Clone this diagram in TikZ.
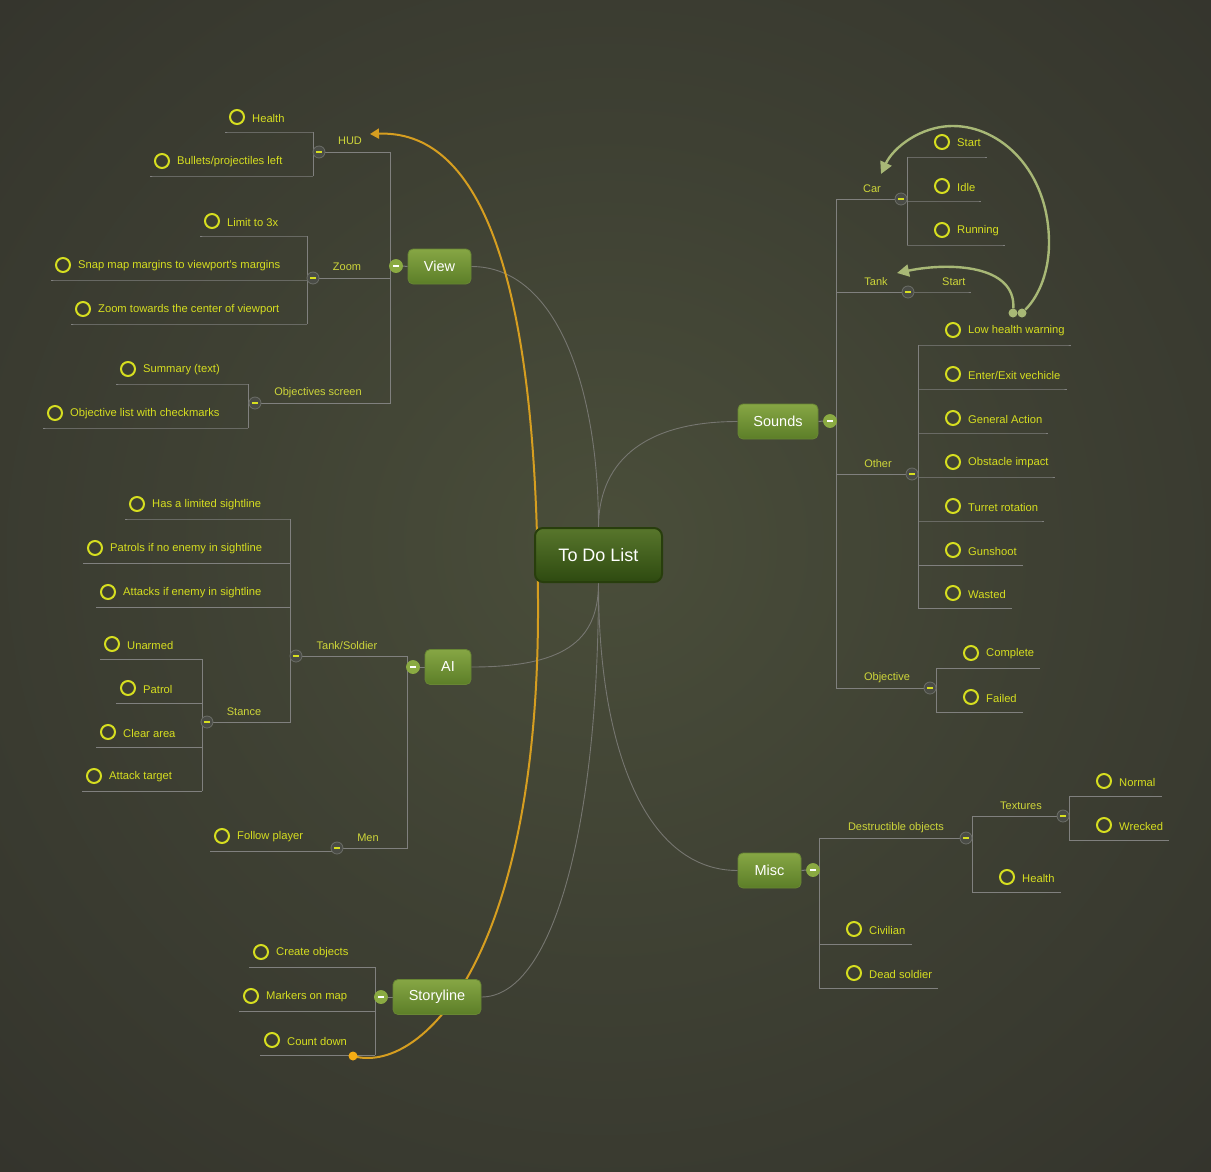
\documentclass[tikz,border=0pt]{standalone}
\usepackage{fontspec}
\setmainfont{Liberation Sans}
\usetikzlibrary{arrows.meta,calc}
\definecolor{bgA}{RGB}{74,78,58}
\definecolor{bgB}{RGB}{62,64,51}
\definecolor{bgC}{RGB}{47,46,41}
\definecolor{bgD}{RGB}{40,39,36}
\definecolor{leafc}{RGB}{214,222,32}
\definecolor{labelc}{RGB}{206,214,58}
\definecolor{linec}{RGB}{128,128,126}
\definecolor{curvec}{RGB}{118,118,112}
\definecolor{btnfill}{RGB}{74,76,70}
\definecolor{btndraw}{RGB}{108,110,104}
\definecolor{mbtnfill}{RGB}{138,170,66}
\definecolor{topicTop}{RGB}{134,166,68}
\definecolor{topicBot}{RGB}{92,126,40}
\definecolor{topicDraw}{RGB}{104,134,52}
\definecolor{rootTop}{RGB}{88,118,44}
\definecolor{rootBot}{RGB}{46,74,16}
\definecolor{rootDraw}{RGB}{40,62,12}
\definecolor{orangec}{RGB}{214,158,32}
\definecolor{orangedot}{RGB}{244,172,20}
\definecolor{sgreen}{RGB}{168,184,118}
\pgfdeclarelayer{back}
\pgfdeclarelayer{lines}
\pgfsetlayers{back,lines,main}
\pgfdeclareradialshading{bgshade}{\pgfpoint{0bp}{2bp}}{color(0bp)=(bgA);color(18bp)=(bgB);color(45bp)=(bgC);color(72bp)=(bgD)}
\tikzset{
  ln/.style={draw=linec, line width=1pt},
  maincurve/.style={draw=curvec, line width=0.9pt},
  btn/.style={circle, minimum size=12pt, inner sep=0pt, fill=btnfill, draw=btndraw, line width=0.8pt,
    path picture={\fill[leafc] ($(path picture bounding box.center)+(-3.2pt,-1.3pt)$) rectangle ++(6.4pt,2.6pt);}},
  mbtn/.style={circle, minimum size=13pt, inner sep=0pt, fill=mbtnfill, draw=mbtnfill, line width=0.8pt,
    path picture={\fill[white] ($(path picture bounding box.center)+(-3.4pt,-1.4pt)$) rectangle ++(6.8pt,2.8pt);}},
  chk/.style={circle, draw=leafc, line width=2pt, minimum size=14pt, inner sep=0pt},
  lt/.style={text=leafc, font=\fontsize{11.2}{13}\selectfont, inner sep=2pt, anchor=west},
  lbl/.style={text=labelc, font=\fontsize{11}{12}\selectfont, inner sep=1pt},
  topic/.style={rounded corners=5pt, top color=topicTop, bottom color=topicBot, draw=topicDraw, line width=0.8pt,
    minimum height=35pt, inner sep=0pt, text=white, font=\fontsize{14.5}{16}\selectfont},
  rootnode/.style={rounded corners=8pt, top color=rootTop, bottom color=rootBot, draw=rootDraw, line width=2pt,
    minimum height=54pt, minimum width=127pt, inner sep=0pt, text=white, font=\fontsize{18}{20}\selectfont},
  sarrow/.style={draw=sgreen, line width=2.4pt, -{Triangle[length=12pt,width=12pt]}},
  oarrow/.style={draw=orangec, line width=2pt, -{Triangle[length=9pt,width=10pt]}},
}
\newcommand\leafL[5]{%
  \node[chk] (#1c) at (#2,#3-15) {};
  \node[lt] (#1) at (#2+13,#3-14) {#5};
  \begin{pgfonlayer}{lines}\draw[ln] (#4,#3) -- (#1c.west |- #4,#3) -- ++(-4pt,0pt);\end{pgfonlayer}}
\newcommand\leafR[4]{%
  \node[chk] (#1c) at (#2+35,#3-15) {};
  \node[lt] (#1) at (#2+48,#3-14) {#4};
  \begin{pgfonlayer}{lines}\draw[ln] (#2,#3) -- (#1.east |- #2,#3) -- ++(4pt,0pt);\end{pgfonlayer}}
\begin{document}
\begin{tikzpicture}[x=1pt,y=-1pt]
\useasboundingbox (0,0) rectangle (1211,1171);
\begin{pgfonlayer}{back}
\shade[shading=bgshade] (0,0) rectangle (1211,1171);
\end{pgfonlayer}

% root and topics
\node[rootnode] (root) at (598.5,555) {To Do List};
\node[topic, minimum width=63pt] (view) at (439.5,266.5) {View};
\node[topic, minimum width=80pt] (sounds) at (778,421.5) {Sounds};
\node[topic, minimum width=46pt] (ai) at (448,667) {AI};
\node[topic, minimum width=63pt] (misc) at (769.5,870.5) {Misc};
\node[topic, minimum width=88pt] (story) at (437,997) {Storyline};

% buttons
\node[mbtn] (bview) at (396,266) {};
\node[mbtn] (bsounds) at (830,421) {};
\node[mbtn] (bai) at (413,667) {};
\node[mbtn] (bmisc) at (813,870) {};
\node[mbtn] (bstory) at (381,997) {};
\node[btn] (bhud) at (319,152) {};
\node[btn] (bzoom) at (313,278) {};
\node[btn] (bobj) at (255,403) {};
\node[btn] (bts) at (296,656) {};
\node[btn] (bstance) at (207,722) {};
\node[btn] (bmen) at (337,848) {};
\node[btn] (bcar) at (901,199) {};
\node[btn] (btank) at (908,292) {};
\node[btn] (bother) at (912,474) {};
\node[btn] (bobjective) at (930,688) {};
\node[btn] (bdestr) at (966,838) {};
\node[btn] (btex) at (1063,816) {};

% labels
\node[lbl] (lhud) at (350,141) {HUD};
\node[lbl] (lzoom) at (347,267) {Zoom};
\node[lbl] (lobj) at (318,393) {Objectives screen};
\node[lbl] (lts) at (347,646) {Tank/Soldier};
\node[lbl] (lstance) at (244,712) {Stance};
\node[lbl] (lmen) at (368,838) {Men};
\node[lbl] (lcar) at (872,189) {Car};
\node[lbl] (ltank) at (876,282) {Tank};
\node[lbl] (lother) at (878,464) {Other};
\node[lbl] (lobjective) at (887,678) {Objective};
\node[lbl] (ldestr) at (896,828) {Destructible objects};
\node[lbl] (ltex) at (1021,806) {Textures};
\node[lbl, anchor=west] (tstart) at (941,282) {Start};

% left leaves
\leafL{hh}{237}{132}{313}{Health}
\leafL{hb}{162}{176}{313}{Bullets/projectiles left}
\leafL{zl}{212}{236}{307}{Limit to 3x}
\leafL{zs}{63}{280}{307}{Snap map margins to viewport's margins}
\leafL{zt}{83}{324}{307}{Zoom towards the center of viewport}
\leafL{os}{128}{384}{248}{Summary (text)}
\leafL{ol}{55}{428}{248}{Objective list with checkmarks}
\leafL{th}{137}{519}{290}{Has a limited sightline}
\leafL{tp}{95}{563}{290}{Patrols if no enemy in sightline}
\leafL{ta}{108}{607}{290}{Attacks if enemy in sightline}
\leafL{su}{112}{659}{202}{Unarmed}
\leafL{sp}{128}{703}{202}{Patrol}
\leafL{sc}{108}{747}{202}{Clear area}
\leafL{sa}{94}{791}{202}{Attack target}
\leafL{mf}{222}{851}{337}{Follow player}
\leafL{yc}{261}{967}{375}{Create objects}
\leafL{ym}{251}{1011}{375}{Markers on map}
\leafL{yd}{272}{1055}{375}{Count down}

% right leaves
\leafR{cs}{907}{157}{Start}
\leafR{ci}{907}{201}{Idle}
\leafR{cr}{907}{245}{Running}
\leafR{ow}{918}{345}{Low health warning}
\leafR{oe}{918}{389}{Enter/Exit vechicle}
\leafR{og}{918}{433}{General Action}
\leafR{oi}{918}{477}{Obstacle impact}
\leafR{ot}{918}{521}{Turret rotation}
\leafR{gs}{918}{565}{Gunshoot}
\leafR{ws}{918}{608}{Wasted}
\leafR{bc}{936}{668}{Complete}
\leafR{bf}{936}{712}{Failed}
\leafR{xn}{1069}{796}{Normal}
\leafR{xw}{1069}{840}{Wrecked}
\leafR{dh}{972}{892}{Health}
\leafR{mc}{819}{944}{Civilian}
\leafR{md}{819}{988}{Dead soldier}

% tree lines
\begin{pgfonlayer}{lines}
\draw[ln] (view.west) -- (bview.east);
\draw[ln] (bhud.east) -- (390,152) -- (390,403) -- (bobj.east);
\draw[ln] (bzoom.east) -- (390,278);
\draw[ln] (313,132) -- (313,176);
\draw[ln] (307,236) -- (307,324);
\draw[ln] (248,384) -- (248,428);
\draw[ln] (ai.west) -- (bai.east);
\draw[ln] (bts.east) -- (407,656) -- (407,848) -- (bmen.east);
\draw[ln] (290,519) -- (290,722) -- (bstance.east);
\draw[ln] (202,659) -- (202,791);
\draw[ln] (story.west) -- (bstory.east);
\draw[ln] (375,967) -- (375,1055);
\draw[ln] (sounds.east) -- (bsounds.west);
\draw[ln] (bcar.west) -- (836,199) -- (836,688) -- (bobjective.west);
\draw[ln] (836,292) -- (btank.west);
\draw[ln] (btank.east) -- (tstart.east |- btank) -- ++(4pt,0pt);
\draw[ln] (836,474) -- (bother.west);
\draw[ln] (907,157) -- (907,245);
\draw[ln] (918,345) -- (918,608);
\draw[ln] (936,668) -- (936,712);
\draw[ln] (misc.east) -- (bmisc.west);
\draw[ln] (bdestr.west) -- (819,838) -- (819,988);
\draw[ln] (btex.west) -- (972,816) -- (972,892);
\draw[ln] (1069,796) -- (1069,840);

% main curves
\draw[maincurve] (view.east) .. controls +(85,0) and +(0,-140) .. (root.north);
\draw[maincurve] (sounds.west) .. controls +(-100,0) and +(0,-60) .. (root.north);
\draw[maincurve] (ai.east) .. controls +(90,0) and +(0,60) .. (root.south);
\draw[maincurve] (misc.west) .. controls +(-90,0) and +(0,170) .. (root.south);
\draw[maincurve] (story.east) .. controls +(70,0) and +(0,250) .. (root.south);

% orange relationship
\coordinate (otip) at (370,134);
\draw[oarrow] (353,1056) .. controls (420,1075) and (540,960) .. (538,600) .. controls (537,260) and (475,130) .. (otip);
\end{pgfonlayer}
\node[circle, fill=orangedot, minimum size=9pt, inner sep=0pt] (odot) at (353,1056) {};

% sound relationships
\node[circle, fill=sgreen, minimum size=9pt, inner sep=0pt] (d1) at (1013,313) {};
\node[circle, fill=sgreen, minimum size=9pt, inner sep=0pt] (d2) at (1022,313) {};
\coordinate (cartip) at (881,174);
\coordinate (tanktip) at (897,273);
\draw[sarrow] (d2) .. controls (1040,295) and (1049,270) .. (1049,243) .. controls (1049,170) and (1000,126) .. (953,126) .. controls (920,126) and (893,148) .. (cartip);
\draw[sarrow] (d1) .. controls (1016,265) and (950,262) .. (tanktip);
\end{tikzpicture}
\end{document}
